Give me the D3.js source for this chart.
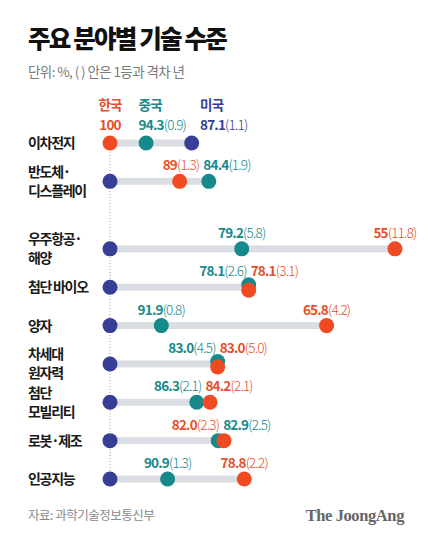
<!DOCTYPE html>
<html><head><meta charset="utf-8">
<script src="https://cdn.jsdelivr.net/npm/d3@7"></script>
<style>
body{margin:0;background:#fff}
svg{display:block}
text{font-family:"Noto Sans CJK KR","Noto Sans",sans-serif}
</style></head>
<body><svg id="c" width="430" height="538"></svg>
<script>
// ---- data ----
const categories = ["이차전지","반도체·\n디스플레이","우주항공·\n해양","첨단 바이오","양자","차세대\n원자력","첨단\n모빌리티","로봇·제조","인공지능"];
const koreaScore = ["100","89","55","78.1","65.8","83.0","84.2","82.0","78.8"];
const koreaGap   = [0, 1.3, 11.8, 3.1, 4.2, 5.0, 2.1, 2.3, 2.2];
const chinaScore = ["94.3","84.4","79.2","78.1","91.9","83.0","86.3","82.9","90.9"];
const chinaGap   = [0.9, 1.9, 5.8, 2.6, 0.8, 4.5, 2.1, 2.5, 1.3];
const usScore    = ["87.1","100","100","100","100","100","100","100","100"];
const usGap      = [1.1, 0, 0, 0, 0, 0, 0, 0, 0];
const countries  = ["한국","중국","미국"];
const title = "주요 분야별 기술 수준";
const subtitle = "단위: %, ( ) 안은 1등과 격차 년";
const source = "자료: 과학기술정보통신부";
const brand = "The JoongAng";

const colors = {"한국":"#f04a22","중국":"#16898b","미국":"#363e95"};
const labelColors = {"한국":"#e5502c","중국":"#16898b","미국":"#363e95"};

// ---- layout ----
const svg = d3.select("#c");
const x = d3.scaleLinear().domain([100, 55]).range([110, 395]);
const rowPos = categories.map((c,i)=> i + (i>=2 ? 0.76 : 0));
const y = d3.scaleLinear().domain([0, rowPos[rowPos.length-1]]).range([143, 479]);
const R = 7.5;
const fmtGap = d3.format(".1f");

svg.append("text").attr("x",28).attr("y",48)
  .attr("font-size",24.5).attr("font-weight",900).attr("letter-spacing",-1.8)
  .attr("fill","#111").text(title);
svg.append("text").attr("x",28).attr("y",77)
  .attr("font-size",13.5).attr("letter-spacing",-0.6)
  .attr("fill","#7a7a7a").text(subtitle);
svg.append("text").attr("x",28).attr("y",520)
  .attr("font-size",12.5).attr("letter-spacing",-0.5)
  .attr("fill","#8a8a8a").text(source);
svg.append("text").attr("x",404).attr("y",521).attr("text-anchor","end")
  .style("font-family","'Liberation Serif','DejaVu Serif',serif")
  .attr("font-size",16.5).attr("font-weight",700).attr("letter-spacing",-0.4)
  .attr("fill","#666").text(brand);

// dotted leader line
svg.append("line")
  .attr("x1",x(100)).attr("x2",x(100))
  .attr("y1",y(rowPos[0])).attr("y2",y(rowPos[rowPos.length-1]))
  .attr("stroke","#9aa0a8").attr("stroke-width",1).attr("stroke-dasharray","1,2");

const gBars = svg.append("g");
const gDots = svg.append("g");
const gLab = svg.append("g");

function makeLabel(p, baseline){
  const t = gLab.append("text").attr("y",baseline)
    .attr("font-size",13.5).attr("letter-spacing",-0.8)
    .attr("fill",labelColors[p.c]);
  t.append("tspan").attr("font-weight",700).text(p.s);
  if (p.g > 0) t.append("tspan").attr("font-weight",300).text("(" + fmtGap(p.g) + ")");
  return t;
}

categories.forEach((cat,i)=>{
  const cy = y(rowPos[i]);
  const pts = [
    {c:"한국", s:koreaScore[i], g:koreaGap[i]},
    {c:"중국", s:chinaScore[i], g:chinaGap[i]},
    {c:"미국", s:usScore[i], g:usGap[i]}
  ];
  pts.forEach(p=>{ p.x = x(+p.s); p.y = cy; });
  const kr = pts[0], cn = pts[1];
  if (Math.abs(kr.x - cn.x) < 1){ cn.y = cy - 2.5; kr.y = cy + 3; }

  // category label (one text per line)
  const lines = cat.split("\n");
  const LH = 19;
  lines.forEach((l,k)=>{
    svg.append("text").attr("x",28)
      .attr("y", cy + 5 - (lines.length-1)*LH/2 + k*LH)
      .attr("font-size",14).attr("font-weight",700).attr("letter-spacing",-1.3)
      .attr("fill","#1a1a1a").text(l);
  });

  // bar
  const xs = pts.map(p=>p.x);
  gBars.append("rect")
    .attr("x", d3.min(xs)).attr("width", d3.max(xs)-d3.min(xs))
    .attr("y", cy-3.5).attr("height",7).attr("fill","#dadee3");

  // dots: US, China, Korea (Korea on top)
  [pts[2], pts[1], pts[0]].forEach(p=>{
    gDots.append("circle").attr("cx",p.x).attr("cy",p.y).attr("r",R).attr("fill",colors[p.c]);
  });

  if (i === 0){
    // header row: country names + values for all three
    const sorted = pts.slice().sort((a,b)=>a.x-b.x);
    let prevEnd = -Infinity;
    sorted.forEach((p,k)=>{
      const t = makeLabel(p, cy - 13);
      const w = t.node().getComputedTextLength();
      let start = (k===0) ? p.x - w/2 : Math.max(p.x - R, prevEnd + 14);
      t.attr("x", start);
      gLab.append("text").attr("x", k===0 ? p.x : start).attr("y", cy - 33.5)
        .attr("text-anchor", k===0 ? "middle" : "start")
        .attr("font-size",13.5).attr("font-weight",700).attr("letter-spacing",-0.8)
        .attr("fill",labelColors[p.c]).text(countries[countries.indexOf(p.c)]);
      if (k===0) { t.attr("x", p.x).attr("text-anchor","middle"); }
      if (start > p.x + R + 2){
        const vx = start + 12;
        gBars.append("path")
          .attr("d", `M${p.x+R},${cy}H${vx}V${cy-12}`)
          .attr("fill","none").attr("stroke","#555").attr("stroke-width",1);
      }
      prevEnd = start + w;
    });
  } else {
    const labs = pts.filter(p=>p.g > 0).sort((a,b)=> (a.g-b.g) || (a.x-b.x));
    const items = labs.map(p=>{
      const t = makeLabel(p, cy - 11);
      return {p, t, w: t.node().getComputedTextLength()};
    });
    if (items.length === 2){
      const [a,b] = items;
      const overlap = (a.p.x + a.w/2 + 4) > (b.p.x - b.w/2);
      if (overlap){
        const split = Math.max((a.p.x + b.p.x)/2, b.p.x - R);
        a.t.attr("x", split - 2).attr("text-anchor","end");
        b.t.attr("x", split + 2).attr("text-anchor","start");
      } else {
        items.forEach(it=>it.t.attr("x", it.p.x).attr("text-anchor","middle"));
      }
    } else {
      items.forEach(it=>it.t.attr("x", it.p.x).attr("text-anchor","middle"));
    }
  }
});
</script>
</body></html>
